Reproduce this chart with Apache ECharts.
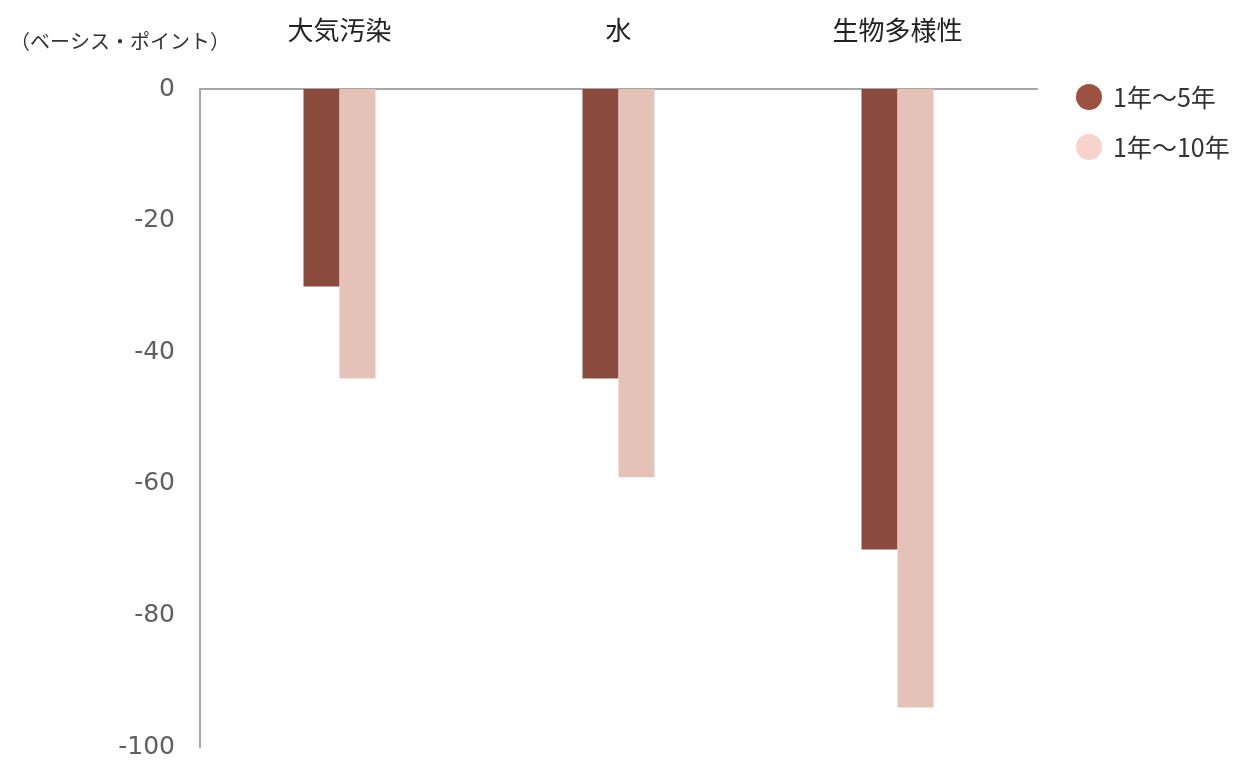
<!DOCTYPE html>
<html>
<head>
<meta charset="utf-8">
<script src="https://cdn.jsdelivr.net/npm/echarts@6/dist/echarts.min.js"></script>
<style>
  html, body { margin: 0; padding: 0; background: #fff; }
  #chart { width: 1236px; height: 760px; }
</style>
</head>
<body>
<div id="chart"></div>
<script>
// Categories and values (basis points)
const categories = ['大気汚染', '水', '生物多様性'];
const seriesNames = ['1年～5年', '1年～10年'];
const fiveYear = [-30, -44, -70];
const tenYear = [-44, -59, -94];
const yTicks = [0, -20, -40, -60, -80, -100];

const barColors = ['#8a4b3e', '#e5c2b7'];
const legendColors = ['#9b5241', '#f6d4cb'];

const chart = echarts.init(document.getElementById('chart'));
const font = '"Noto Sans CJK JP", "Noto Sans", sans-serif';

chart.setOption({
  animation: false,
  textStyle: { fontFamily: font },
  grid: { left: 200, right: 199, top: 89, bottom: 13, containLabel: false },
  graphic: [{
    type: 'text', left: 10, top: 31,
    style: { text: '（ベーシス・ポイント）', fontSize: 20, fill: '#333', fontFamily: font }
  }],
  legend: {
    orient: 'vertical', left: 1071, top: 79, itemGap: 24,
    icon: 'circle', itemWidth: 26, itemHeight: 26,
    textStyle: { fontSize: 25, color: '#333', fontFamily: font, padding: [0, 0, 0, 6] },
    data: seriesNames.map((n, i) => ({ name: n, itemStyle: { color: legendColors[i] } }))
  },
  xAxis: {
    type: 'category', position: 'top', data: categories,
    axisLine: { show: true, onZero: false, lineStyle: { color: '#a6a6a6', width: 2 } },
    axisTick: { show: false },
    axisLabel: { fontSize: 26, color: '#222', margin: 46, fontFamily: font }
  },
  yAxis: {
    type: 'value', min: -100, max: 0, interval: 20,
    axisLine: { show: true, lineStyle: { color: '#a6a6a6', width: 2 } },
    axisTick: { show: false },
    splitLine: { show: false },
    axisLabel: {
      fontSize: 25, color: '#5f5f5f', margin: 25, fontFamily: '"DejaVu Sans", sans-serif',
      formatter: v => (yTicks.includes(v) ? String(v) : '')
    }
  },
  series: [
    { name: seriesNames[0], type: 'bar', data: fiveYear, barWidth: 36, barGap: '0%',
      itemStyle: { color: barColors[0] } },
    { name: seriesNames[1], type: 'bar', data: tenYear, barWidth: 36, barGap: '0%',
      itemStyle: { color: barColors[1] } }
  ]
});
</script>
</body>
</html>
